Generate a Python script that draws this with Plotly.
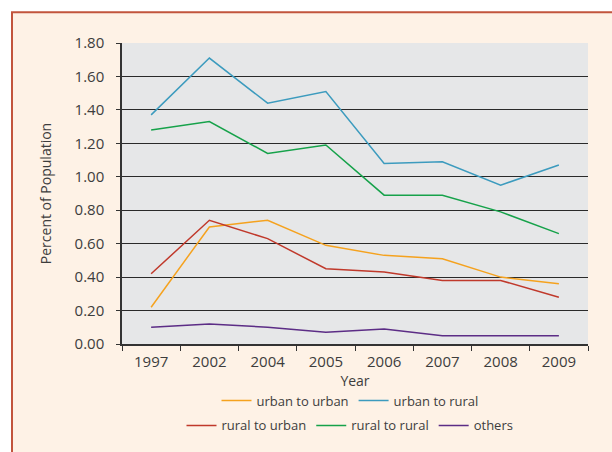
import plotly.graph_objects as go

# Survey years (categorical x axis)
years = ["1997", "2002", "2004", "2005", "2006", "2007", "2008", "2009"]

# Share of population by migration type (percent)
urban_to_urban = [0.22, 0.70, 0.74, 0.59, 0.53, 0.51, 0.40, 0.36]
urban_to_rural = [1.37, 1.71, 1.44, 1.51, 1.08, 1.09, 0.95, 1.07]
rural_to_urban = [0.42, 0.74, 0.63, 0.45, 0.43, 0.38, 0.38, 0.28]
rural_to_rural = [1.28, 1.33, 1.14, 1.19, 0.89, 0.89, 0.79, 0.66]
others = [0.10, 0.12, 0.10, 0.07, 0.09, 0.05, 0.05, 0.05]

y_ticks = [0.0, 0.2, 0.4, 0.6, 0.8, 1.0, 1.2, 1.4, 1.6, 1.8]

W, H = 612, 452
ML, MR, MT, MB = 122, 24, 43, 106
PW, PH = W - ML - MR, H - MT - MB


def px_x(x):
    return (x - ML) / PW


def px_y(y):
    return 1 - (y - MT) / PH


FONT = "Open Sans"
TXT = "#3d3d3d"

series = [
    ("urban to urban", urban_to_urban, "#F5A21E", "legend"),
    ("urban to rural", urban_to_rural, "#3C9BBE", "legend"),
    ("rural to urban", rural_to_urban, "#C0392B", "legend2"),
    ("rural to rural", rural_to_rural, "#16A24A", "legend2"),
    ("others", others, "#5C2D86", "legend2"),
]

fig = go.Figure()
for name, vals, color, lg in series:
    fig.add_trace(go.Scatter(
        x=years, y=vals, name=name, mode="lines",
        line=dict(color=color, width=1.5),
        legend=lg,
    ))

# Frame around the figure: white margin strips and a rust-coloured border
fig.add_shape(type="rect", xref="paper", yref="paper",
              x0=px_x(-5), x1=px_x(W + 5), y0=px_y(12), y1=px_y(-5),
              fillcolor="white", line_width=0, layer="below")
fig.add_shape(type="rect", xref="paper", yref="paper",
              x0=px_x(-5), x1=px_x(11), y0=px_y(H + 5), y1=px_y(-5),
              fillcolor="white", line_width=0, layer="below")
fig.add_shape(type="line", xref="paper", yref="paper",
              x0=px_x(12), x1=px_x(12), y0=px_y(12), y1=px_y(H + 5),
              line=dict(color="#C2553D", width=2))
fig.add_shape(type="line", xref="paper", yref="paper",
              x0=px_x(11), x1=px_x(W + 5), y0=px_y(12), y1=px_y(12),
              line=dict(color="#C2553D", width=2))

legend_common = dict(
    orientation="h", xanchor="center", yanchor="middle",
    bgcolor="rgba(0,0,0,0)", font=dict(family=FONT, size=13, color=TXT),
    itemwidth=30, tracegroupgap=0,
)

fig.update_layout(
    width=W, height=H,
    margin=dict(l=ML, r=MR, t=MT, b=MB),
    paper_bgcolor="#FEF2E6",
    plot_bgcolor="#E6E7E8",
    font=dict(family=FONT, size=14, color=TXT),
    legend=dict(x=px_x(350), y=px_y(403), **legend_common),
    legend2=dict(x=px_x(350), y=px_y(428), **legend_common),
    xaxis=dict(
        type="category", tickson="boundaries", range=[-0.5, 7.5],
        ticks="outside", ticklen=5, tickcolor="#333", tickwidth=1,
        ticklabelstandoff=3,
        showline=True, linecolor="#333", linewidth=1.5,
        showgrid=False, zeroline=False,
        title=dict(text="Year", font=dict(size=14, color=TXT), standoff=5),
        tickfont=dict(size=15, color=TXT),
    ),
    yaxis=dict(
        range=[0, 1.8], tickvals=y_ticks, tickformat=".2f",
        ticks="outside", ticklen=4, tickcolor="#333",
        ticklabelstandoff=9,
        showline=True, linecolor="#333", linewidth=1.5,
        showgrid=True, gridcolor="#2a2a2a", gridwidth=1,
        zeroline=False,
        title=dict(text="Percent of Population", font=dict(size=14, color=TXT), standoff=20),
        tickfont=dict(size=15, color=TXT),
    ),
)

fig.write_html("out.html")
